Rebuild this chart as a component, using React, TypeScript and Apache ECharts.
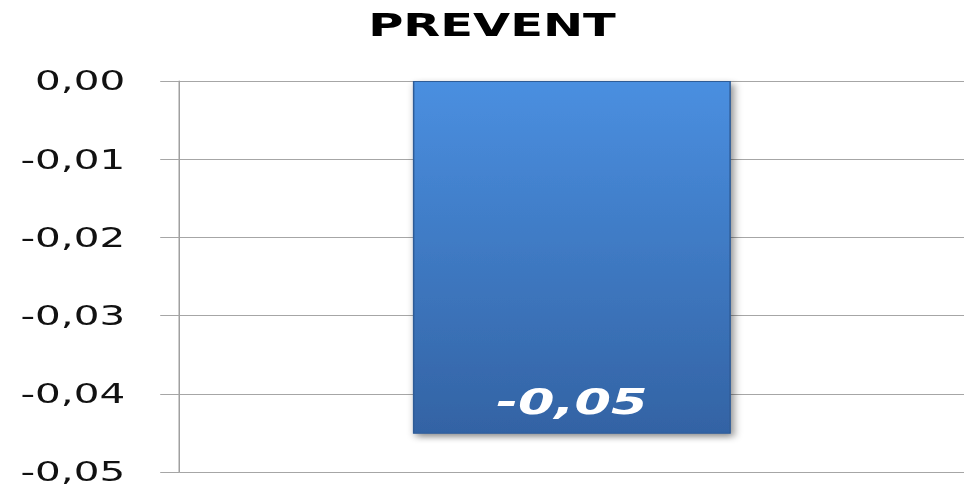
import React, { useEffect, useRef } from "react";
import * as echarts from "echarts";

const categories: string[] = ["PREVENT"];
const values: number[] = [-0.0451];
const yMin = -0.05;
const yMax = 0;
const yInterval = 0.01;
const titleText = "PREVENT";

const STRETCH = 1.5;
const OUT_W = 964;
const OUT_H = 489;
const IN_W = OUT_W / STRETCH;

const fmt = (v: number) => {
  const s = Math.abs(v) < 1e-9 ? "0,00" : v.toFixed(2).replace(".", ",");
  return s;
};

export default function App() {
  const ref = useRef<HTMLDivElement>(null);
  useEffect(() => {
    if (!ref.current) return;
    const chart = echarts.init(ref.current, undefined, { renderer: "svg" });
    chart.setOption({
      animation: false,
      backgroundColor: "#ffffff",
      graphic: [
        {
          type: "text",
          x: 328,
          y: 9,
          style: {
            text: titleText,
            textAlign: "center",
            textVerticalAlign: "top",
            fontFamily: "DejaVu Sans",
            fontWeight: "bold",
            fontSize: 32,
            fill: "#000000",
          },
        },
      ],
      grid: {
        left: 119.5,
        right: -3,
        top: 81,
        bottom: 17,
        containLabel: false,
      },
      xAxis: {
        type: "category",
        data: categories,
        axisLine: { show: false },
        axisTick: { show: false },
        axisLabel: { show: false },
        splitLine: { show: false },
      },
      yAxis: {
        type: "value",
        min: yMin,
        max: yMax,
        interval: yInterval,
        axisLine: { show: true, lineStyle: { color: "#a0a0a0", width: 1 } },
        axisTick: {
          show: true,
          inside: false,
          length: 12.7,
          lineStyle: { color: "#a6a6a6", width: 1 },
        },
        axisLabel: {
          margin: 36,
          fontFamily: "DejaVu Sans",
          fontSize: 27,
          color: "#111111",
          padding: [3, 0, 0, 0],
          formatter: (v: number) => fmt(v),
        },
        splitLine: { show: true, lineStyle: { color: "#a6a6a6", width: 1 } },
      },
      series: [
        {
          type: "bar",
          data: values,
          barWidth: 212,
          itemStyle: {
            color: new echarts.graphic.LinearGradient(0, 0, 0, 1, [
              { offset: 0, color: "#4a8fe0" },
              { offset: 1, color: "#3363a4" },
            ]),
            borderColor: "#2f5b96",
            borderWidth: 1,
            shadowBlur: 6,
            shadowOffsetX: 2,
            shadowOffsetY: 3,
            shadowColor: "rgba(0,0,0,0.45)",
          },
          label: {
            show: true,
            position: "insideBottom",
            distance: 14,
            fontFamily: "DejaVu Sans",
            fontWeight: "bold",
            fontStyle: "italic",
            fontSize: 35,
            color: "#ffffff",
            formatter: (p: any) => fmt(p.value),
          },
        },
      ],
    });
    return () => chart.dispose();
  }, []);

  return (
    <div
      style={{
        position: "fixed",
        left: 0,
        top: 0,
        width: OUT_W,
        height: OUT_H,
        overflow: "hidden",
        background: "#ffffff",
      }}
    >
      <div
        ref={ref}
        style={{
          width: IN_W,
          height: OUT_H,
          transform: `scaleX(${STRETCH})`,
          transformOrigin: "0 0",
        }}
      />
    </div>
  );
}
